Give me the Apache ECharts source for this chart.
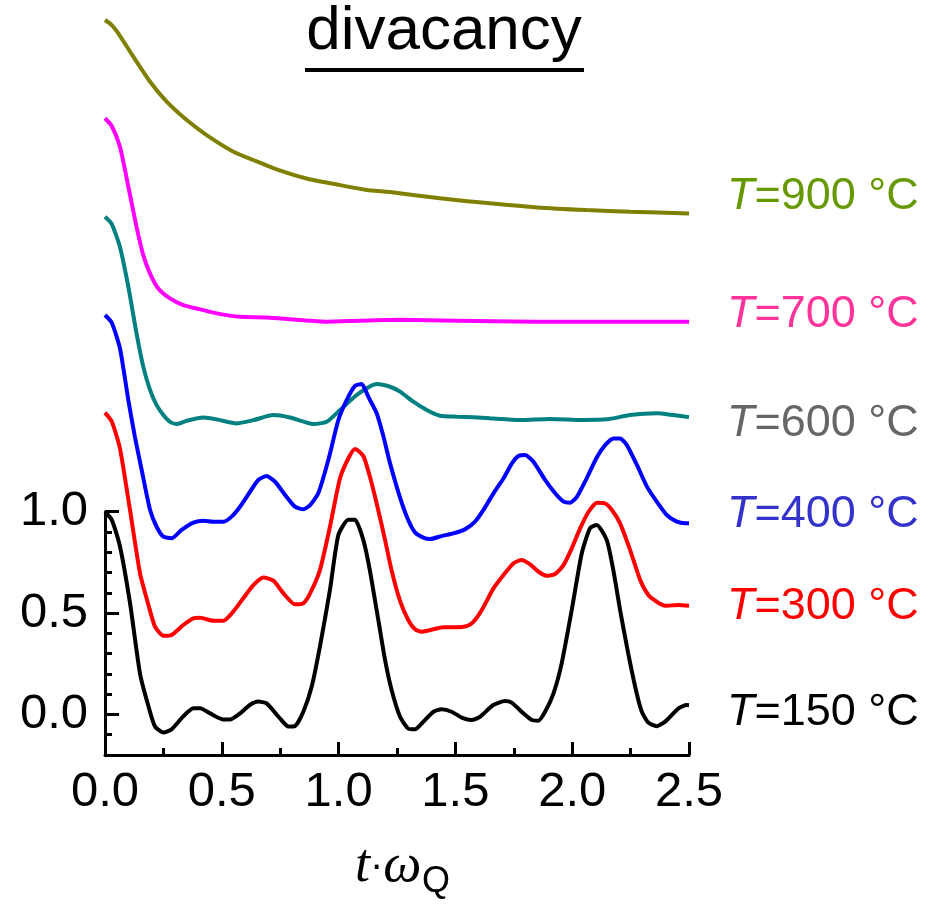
<!DOCTYPE html>
<html>
<head>
<meta charset="utf-8">
<script src="https://cdn.jsdelivr.net/npm/echarts@6/dist/echarts.min.js"></script>
<style>
  html, body { margin: 0; padding: 0; background: #fff; }
  #chart { width: 934px; height: 905px; }
</style>
</head>
<body>
<div id="chart"></div>
<script>
// curves as plotted (vertical offsets already included), [t*wQ, value]
const curve900 = [[0,3.427],[0.029,3.402],[0.057,3.361],[0.121,3.246],[0.193,3.122],[0.264,3.024],[0.35,2.933],[0.435,2.859],[0.55,2.777],[0.635,2.736],[0.735,2.69],[0.863,2.645],[1.006,2.612],[1.12,2.588],[1.22,2.578],[1.434,2.547],[1.648,2.522],[1.848,2.502],[2.062,2.489],[2.248,2.481],[2.5,2.472]];
const curve700 = [[0,2.942],[0.029,2.904],[0.064,2.801],[0.1,2.604],[0.135,2.406],[0.164,2.266],[0.193,2.175],[0.228,2.102],[0.278,2.053],[0.335,2.02],[0.407,1.999],[0.478,1.979],[0.578,1.962],[0.692,1.959],[0.806,1.949],[0.949,1.938],[1.092,1.943],[1.263,1.947],[1.506,1.943],[1.834,1.938],[2.5,1.938]];
const curve600 = [[0,2.456],[0.029,2.42],[0.064,2.307],[0.1,2.11],[0.135,1.88],[0.164,1.715],[0.193,1.6],[0.221,1.526],[0.25,1.477],[0.278,1.444],[0.307,1.433],[0.35,1.449],[0.421,1.465],[0.478,1.456],[0.564,1.436],[0.635,1.452],[0.721,1.477],[0.792,1.465],[0.892,1.433],[0.949,1.444],[1.006,1.502],[1.077,1.576],[1.163,1.63],[1.22,1.617],[1.263,1.593],[1.32,1.543],[1.377,1.502],[1.434,1.474],[1.506,1.469],[1.577,1.466],[1.648,1.461],[1.777,1.453],[1.905,1.458],[2.048,1.453],[2.148,1.456],[2.248,1.477],[2.362,1.486],[2.433,1.477],[2.5,1.467]];
const curve400 = [[0,1.971],[0.029,1.933],[0.064,1.806],[0.1,1.55],[0.128,1.37],[0.157,1.206],[0.193,1.009],[0.221,0.926],[0.25,0.877],[0.285,0.869],[0.328,0.91],[0.378,0.946],[0.421,0.956],[0.464,0.951],[0.507,0.951],[0.542,0.976],[0.578,1.025],[0.621,1.099],[0.656,1.157],[0.692,1.176],[0.728,1.148],[0.771,1.083],[0.813,1.025],[0.849,1.012],[0.878,1.033],[0.913,1.091],[0.956,1.255],[0.999,1.453],[1.035,1.552],[1.07,1.621],[1.099,1.63],[1.127,1.568],[1.163,1.486],[1.192,1.371],[1.22,1.24],[1.263,1.07],[1.298,0.959],[1.327,0.898],[1.363,0.872],[1.391,0.865],[1.441,0.88],[1.491,0.893],[1.541,0.913],[1.584,0.951],[1.62,1.009],[1.663,1.091],[1.706,1.165],[1.742,1.239],[1.77,1.275],[1.798,1.28],[1.834,1.247],[1.884,1.157],[1.927,1.091],[1.963,1.05],[1.991,1.045],[2.02,1.074],[2.062,1.165],[2.105,1.268],[2.141,1.329],[2.177,1.362],[2.205,1.362],[2.234,1.329],[2.277,1.231],[2.32,1.124],[2.362,1.05],[2.405,0.984],[2.448,0.951],[2.484,0.943],[2.5,0.943]];
const curve300 = [[0,1.489],[0.029,1.445],[0.064,1.313],[0.107,1.009],[0.15,0.696],[0.186,0.54],[0.214,0.433],[0.25,0.388],[0.285,0.392],[0.335,0.441],[0.378,0.474],[0.407,0.477],[0.464,0.462],[0.507,0.462],[0.549,0.507],[0.592,0.573],[0.635,0.638],[0.678,0.676],[0.721,0.66],[0.764,0.597],[0.813,0.543],[0.849,0.548],[0.878,0.597],[0.92,0.712],[0.963,0.926],[1.006,1.165],[1.042,1.264],[1.07,1.31],[1.106,1.275],[1.134,1.173],[1.163,1.041],[1.199,0.86],[1.227,0.71],[1.263,0.56],[1.298,0.466],[1.327,0.42],[1.356,0.408],[1.406,0.42],[1.448,0.43],[1.506,0.43],[1.548,0.436],[1.577,0.457],[1.613,0.515],[1.663,0.622],[1.706,0.688],[1.748,0.745],[1.784,0.762],[1.82,0.74],[1.856,0.704],[1.891,0.684],[1.927,0.693],[1.963,0.737],[1.998,0.819],[2.034,0.918],[2.07,1.0],[2.106,1.045],[2.141,1.041],[2.17,1.009],[2.205,0.943],[2.248,0.811],[2.291,0.663],[2.326,0.589],[2.362,0.556],[2.398,0.536],[2.455,0.54],[2.5,0.536]];
const curve150 = [[0,1.0],[0.029,0.96],[0.064,0.83],[0.107,0.55],[0.15,0.2],[0.186,0.04],[0.214,-0.06],[0.25,-0.09],[0.285,-0.074],[0.335,-0.01],[0.378,0.03],[0.407,0.03],[0.45,0.005],[0.507,-0.025],[0.535,-0.025],[0.578,0.005],[0.62,0.046],[0.656,0.063],[0.692,0.054],[0.749,-0.02],[0.785,-0.06],[0.813,-0.058],[0.849,0.013],[0.885,0.137],[0.92,0.334],[0.963,0.614],[0.999,0.885],[1.042,0.96],[1.07,0.96],[1.106,0.86],[1.134,0.71],[1.17,0.466],[1.199,0.268],[1.227,0.12],[1.263,-0.012],[1.298,-0.07],[1.327,-0.074],[1.363,-0.036],[1.406,0.013],[1.441,0.025],[1.484,0.013],[1.527,-0.016],[1.57,-0.028],[1.605,-0.012],[1.662,0.046],[1.712,0.066],[1.741,0.058],[1.791,0.005],[1.827,-0.028],[1.855,-0.031],[1.884,0.013],[1.92,0.104],[1.955,0.252],[1.998,0.515],[2.041,0.795],[2.076,0.918],[2.105,0.935],[2.148,0.86],[2.176,0.712],[2.205,0.515],[2.24,0.3],[2.276,0.104],[2.298,0.013],[2.326,-0.041],[2.362,-0.058],[2.398,-0.036],[2.455,0.03],[2.49,0.046],[2.5,0.045]];

const temps = ['900', '700', '600', '400', '300', '150'];
const xTicks = [0, 0.5, 1.0, 1.5, 2.0, 2.5];
const yTicks = [0, 0.5, 1.0];
const yMinorTicks = [-0.1, 0.1, 0.2, 0.3, 0.4, 0.6, 0.7, 0.8, 0.9];
const titleText = 'divacancy';

const curves = [curve900, curve700, curve600, curve400, curve300, curve150];
const lineColors = ['#808000', '#ff00ff', '#008080', '#0000ff', '#ff0000', '#000000'];
const textColors = ['#669900', '#ff3399', '#666666', '#3333cc', '#ff0000', '#000000'];
const labelY = [200, 318, 427, 518, 610, 716];

const SANS = '"Liberation Sans", Arial, sans-serif';
const SERIF = '"Liberation Serif", "Times New Roman", serif';

const chart = echarts.init(document.getElementById('chart'));

const series = curves.map((c, i) => ({
  name: 'T=' + temps[i],
  type: 'line',
  xAxisIndex: 0,
  yAxisIndex: 0,
  data: c,
  showSymbol: false,
  smooth: 0.2,
  clip: false,
  lineStyle: { color: lineColors[i], width: 4 },
  z: 3
}));

const tempLabels = temps.map((t, i) => ({
  type: 'text',
  left: 727,
  top: labelY[i] - 26,
  style: {
    text: '{i|T}=' + t + ' \u00b0C',
    font: '45px ' + SANS,
    fill: textColors[i],
    rich: {
      i: { fontStyle: 'italic', fontSize: 45, fontFamily: SANS, fill: textColors[i] }
    }
  }
}));

chart.setOption({
  animation: false,
  backgroundColor: '#fff',
  grid: [
    { left: 105, right: 245, top: 5.2, bottom: 150.1, outerBoundsMode: 'none' },
    { left: 105, right: 245, top: 511.7, bottom: 150.1, outerBoundsMode: 'none' }
  ],
  xAxis: [{
    type: 'value',
    gridIndex: 0,
    min: 0,
    max: 2.5,
    interval: 0.5,
    axisLine: { onZero: false, lineStyle: { color: '#000', width: 3 } },
    axisTick: { inside: true, length: 13, lineStyle: { color: '#000', width: 3 } },
    minorTick: { show: true, splitNumber: 2, length: 7, lineStyle: { color: '#000', width: 3 } },
    splitLine: { show: false },
    axisLabel: {
      color: '#000',
      fontSize: 49,
      fontFamily: SANS,
      margin: 13,
      formatter: v => xTicks.includes(v) ? v.toFixed(1) : ''
    }
  }, {
    type: 'value',
    gridIndex: 1,
    min: 0,
    max: 2.5,
    show: false
  }],
  yAxis: [{
    type: 'value',
    gridIndex: 0,
    min: -0.2,
    max: 3.5,
    show: false
  }, {
    type: 'value',
    gridIndex: 1,
    position: 'left',
    min: -0.2,
    max: 1.0,
    axisLine: { show: true, onZero: false, lineStyle: { color: '#000', width: 3 } },
    axisTick: { show: true, inside: true, length: 14, customValues: yTicks, lineStyle: { color: '#000', width: 3 } },
    splitLine: { show: false },
    axisLabel: {
      color: '#000',
      fontSize: 49,
      fontFamily: SANS,
      margin: 17,
      customValues: yTicks,
      formatter: v => v.toFixed(1)
    }
  }, {
    type: 'value',
    gridIndex: 1,
    position: 'left',
    offset: 0,
    min: -0.2,
    max: 1.0,
    axisLine: { show: false, onZero: false },
    axisTick: { show: true, inside: true, length: 7, customValues: yMinorTicks, lineStyle: { color: '#000', width: 3 } },
    splitLine: { show: false },
    axisLabel: { show: false }
  }],
  graphic: [
    {
      type: 'text',
      x: 444,
      y: 32,
      style: { text: titleText, font: '62px ' + SANS, fill: '#000', align: 'center', verticalAlign: 'middle', textAlign: 'center', textVerticalAlign: 'middle' }
    },
    {
      type: 'line',
      shape: { x1: 305, y1: 70, x2: 584, y2: 70 },
      style: { stroke: '#000', lineWidth: 4 }
    },
    {
      type: 'text',
      left: 355,
      top: 840,
      style: {
        text: '{i|t}{d|\u00b7}{i|\u03c9}',
        rich: {
          i: { fontStyle: 'italic', fontSize: 54, fontFamily: SERIF, fill: '#000' },
          d: { fontSize: 40, fontFamily: SANS, fill: '#000' }
        }
      }
    },
    {
      type: 'text',
      left: 422,
      top: 864,
      style: { text: 'Q', font: '36px ' + SANS, fill: '#000' }
    }
  ].concat(tempLabels),
  series: series
});
</script>
</body>
</html>
